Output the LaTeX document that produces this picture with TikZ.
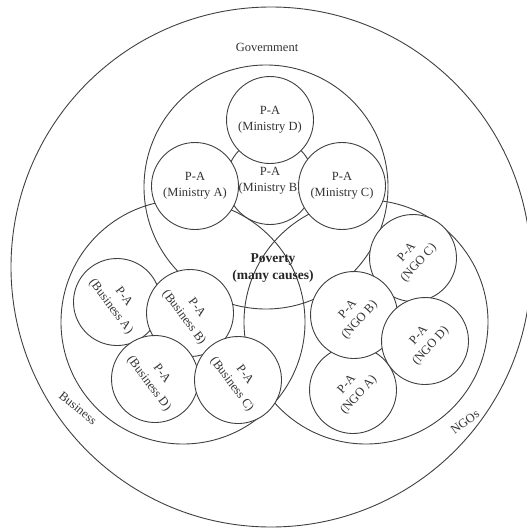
\documentclass[tikz,border=0pt]{standalone}
\usepackage{fontspec}
\setmainfont{Liberation Serif}
\begin{document}
\begin{tikzpicture}[x=1pt,y=-1pt,
  ring/.style={circle, draw=black!75, line width=0.9pt, inner sep=0pt},
  sector/.style={ring, minimum size=244pt},
  actor/.style={ring, fill=white, minimum size=87pt, align=center,
    text=black!80, font=\fontsize{12.5}{16}\selectfont},
  biz/.style={actor, rotate=-53},
  ngo/.style={actor, rotate=48},
  tag/.style={text=black!80, font=\fontsize{12.5}{15}\selectfont, inner sep=0pt}]
\useasboundingbox (0,0) rectangle (527,530);

% outer frame and the three sector circles
\node[ring, minimum size=520pt] (outer) at (271,267) {};
\node[sector] (gov) at (266,187) {};
\node[sector] (bus) at (183,322) {};
\node[sector] (ngos) at (366,322) {};

% sector labels
\node[tag] (govlbl) at (267,47) {Government};
\node[tag, rotate=-39] (buslbl) at (78,408) {Business};
\node[tag, rotate=37] (ngolbl) at (465,422) {NGOs};

% centre
\node[align=center, text=black!85, inner sep=0pt,
      font=\fontsize{13.5}{17}\selectfont\bfseries] (pov) at (273,268)
  {Poverty\\(many causes)};

% ministries
\node[actor] (minB) at (270,181) {P-A\\(Ministry B)};
\node[actor] (minD) at (270,120) {P-A\\(Ministry D)};
\node[actor] (minA) at (195,186) {P-A\\(Ministry A)};
\node[actor] (minC) at (342,186) {P-A\\(Ministry C)};

% businesses
\node[biz] (busA) at (117,302) {P-A\\(Business A)};
\node[biz] (busB) at (190,313) {P-A\\(Business B)};
\node[biz] (busD) at (155,379) {P-A\\(Business D)};
\node[biz] (busC) at (238,380) {P-A\\(Business C)};

% NGOs
\node[ngo] (ngoC) at (413,258) {P-A\\(NGO C)};
\node[ngo] (ngoA) at (353,390) {P-A\\(NGO A)};
\node[ngo] (ngoB) at (354,315) {P-A\\(NGO B)};
\node[ngo] (ngoD) at (425,341) {P-A\\(NGO D)};
\end{tikzpicture}
\end{document}
